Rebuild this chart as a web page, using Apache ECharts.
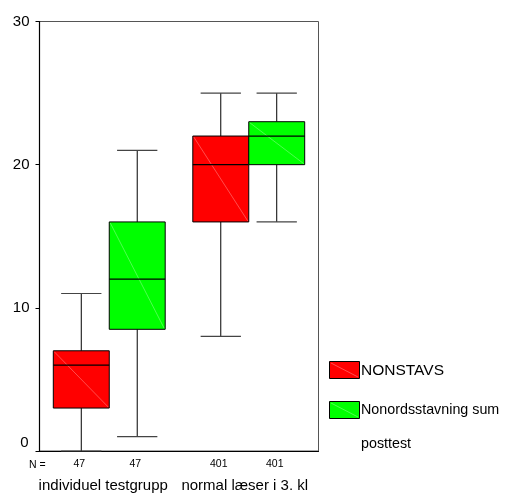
<!DOCTYPE html>
<html>
<head>
<meta charset="utf-8">
<script src="https://cdn.jsdelivr.net/npm/echarts@6/dist/echarts.min.js"></script>
<style>
  html, body { margin: 0; padding: 0; background: #fff; }
  #chart { width: 512px; height: 493px; }
</style>
</head>
<body>
<div id="chart"></div>
<script>
// Groups on the x axis
const groups = ['individuel testgrupp', 'normal læser i 3. kl'];
// Five-number summaries per group: [min, Q1, median, Q3, max]
const nonstavs = [[0, 3, 6, 7, 11], [8, 16, 20, 22, 25]];
const nonords = [[1, 8.5, 12, 16, 21], [16, 20, 22, 23, 25]];
// Number of cases per box
const nNonstavs = [47, 401];
const nNonords = [47, 401];
// Value axis ticks
const yTicks = [0, 10, 20, 30];

const FONT = 'Liberation Sans, Arial, sans-serif';
const RED = '#ff0000';
const GREEN = '#00ff00';

function boxSeries(name, stats, counts, color, side) {
  const data = stats.map((s, i) => [i].concat(s, [counts[i]]));
  return {
    name: name,
    type: 'custom',
    data: data,
    clip: false,
    renderItem: function (params, api) {
      const cat = api.value(0);
      const band = api.size([1, 0])[0];
      const boxW = band * 0.401;
      const center = api.coord([cat, 0])[0];
      const x0 = side < 0 ? center - boxW : center;
      const cx = x0 + boxW / 2;
      const yMin = api.coord([cat, api.value(1)])[1];
      const yQ1 = api.coord([cat, api.value(2)])[1];
      const yMed = api.coord([cat, api.value(3)])[1];
      const yQ3 = api.coord([cat, api.value(4)])[1];
      const yMax = api.coord([cat, api.value(5)])[1];
      const yZero = api.coord([cat, 0])[1];
      const capW = boxW * 0.72;
      const line = (x1, y1, x2, y2, stroke, w) => ({
        type: 'line',
        shape: { x1: x1, y1: y1, x2: x2, y2: y2 },
        style: { stroke: stroke, lineWidth: w || 1 }
      });
      return {
        type: 'group',
        children: [
          line(cx, yMin, cx, yQ1, '#000'),
          line(cx, yQ3, cx, yMax, '#000'),
          line(cx - capW / 2, yMin, cx + capW / 2, yMin, '#444', 1.2),
          line(cx - capW / 2, yMax, cx + capW / 2, yMax, '#444', 1.2),
          {
            type: 'rect',
            shape: { x: x0, y: yQ3, width: boxW, height: yQ1 - yQ3 },
            style: { fill: color, stroke: '#000', lineWidth: 1 }
          },
          line(x0 + 1, yQ3 + 1, x0 + boxW - 1, yQ1 - 1, 'rgba(255,255,255,0.3)'),
          line(x0, yMed, x0 + boxW, yMed, '#000', 1.3),
          {
            type: 'text',
            style: {
              text: String(api.value(6)),
              x: cx - 2, y: yZero + 13,
              align: 'center', verticalAlign: 'middle',
              font: '10.5px ' + FONT, fill: '#000'
            }
          }
        ]
      };
    }
  };
}

function legendItem(y, color, lines, size) {
  const items = [
    {
      type: 'rect',
      shape: { x: 329.5, y: y, width: 30, height: 17 },
      style: { fill: color, stroke: '#000', lineWidth: 1 }
    },
    {
      type: 'line',
      shape: { x1: 331, y1: y + 1.5, x2: 358, y2: y + 15.5 },
      style: { stroke: 'rgba(255,255,255,0.3)', lineWidth: 1 }
    }
  ];
  lines.forEach((t, k) => {
    items.push({
      type: 'text',
      style: {
        text: t, x: 361, y: y + 9 + k * 34,
        verticalAlign: 'middle',
        font: size + 'px ' + FONT, fill: '#000'
      }
    });
  });
  return items;
}

const chart = echarts.init(document.getElementById('chart'), null, { renderer: 'canvas' });
chart.setOption({
  animation: false,
  backgroundColor: '#fff',
  grid: {
    left: 39.5, right: 193.5, top: 21.5, bottom: 41.5,
    show: true, borderColor: '#555', borderWidth: 1, backgroundColor: 'transparent'
  },
  xAxis: {
    type: 'category',
    data: groups,
    boundaryGap: true,
    axisLine: { lineStyle: { color: '#000', width: 1.2 } },
    axisTick: { alignWithLabel: true, length: 4, lineStyle: { color: '#000' } },
    axisLabel: {
      interval: 0, margin: 27,
      fontFamily: FONT, fontSize: 15, color: '#000',
      formatter: (v, i) => (i === 0 ? '{a|' + v + '}' : '{b|' + v + '}'),
      rich: {
        a: { fontFamily: FONT, fontSize: 15, color: '#000', padding: [0, 12, 0, 0] },
        b: { fontFamily: FONT, fontSize: 15, color: '#000', padding: [0, 8, 0, 0] }
      }
    }
  },
  yAxis: {
    type: 'value',
    min: 0, max: 30, interval: 10,
    axisLine: { show: true, lineStyle: { color: '#000', width: 1.2 } },
    axisTick: { show: true, length: 4, lineStyle: { color: '#000' } },
    splitLine: { show: false },
    axisLabel: {
      margin: 10,
      customValues: yTicks,
      fontFamily: FONT, fontSize: 15, color: '#000',
      formatter: v => (v === 0 ? '{z|0}' : String(v)),
      rich: { z: { fontFamily: FONT, fontSize: 15, color: '#000', padding: [0, 1, 16, 0] } }
    }
  },
  graphic: [
    {
      type: 'text',
      style: { text: 'N =', x: 29, y: 465, verticalAlign: 'middle', font: '10.5px ' + FONT, fill: '#000' }
    }
  ].concat(
    legendItem(361.5, RED, ['NONSTAVS'], 15.5),
    legendItem(401.5, GREEN, ['Nonordsstavning sum', 'posttest'], 14.3)
  ),
  series: [
    boxSeries('NONSTAVS', nonstavs, nNonstavs, RED, -1),
    boxSeries('Nonordsstavning sum posttest', nonords, nNonords, GREEN, 1)
  ]
});
</script>
</body>
</html>
